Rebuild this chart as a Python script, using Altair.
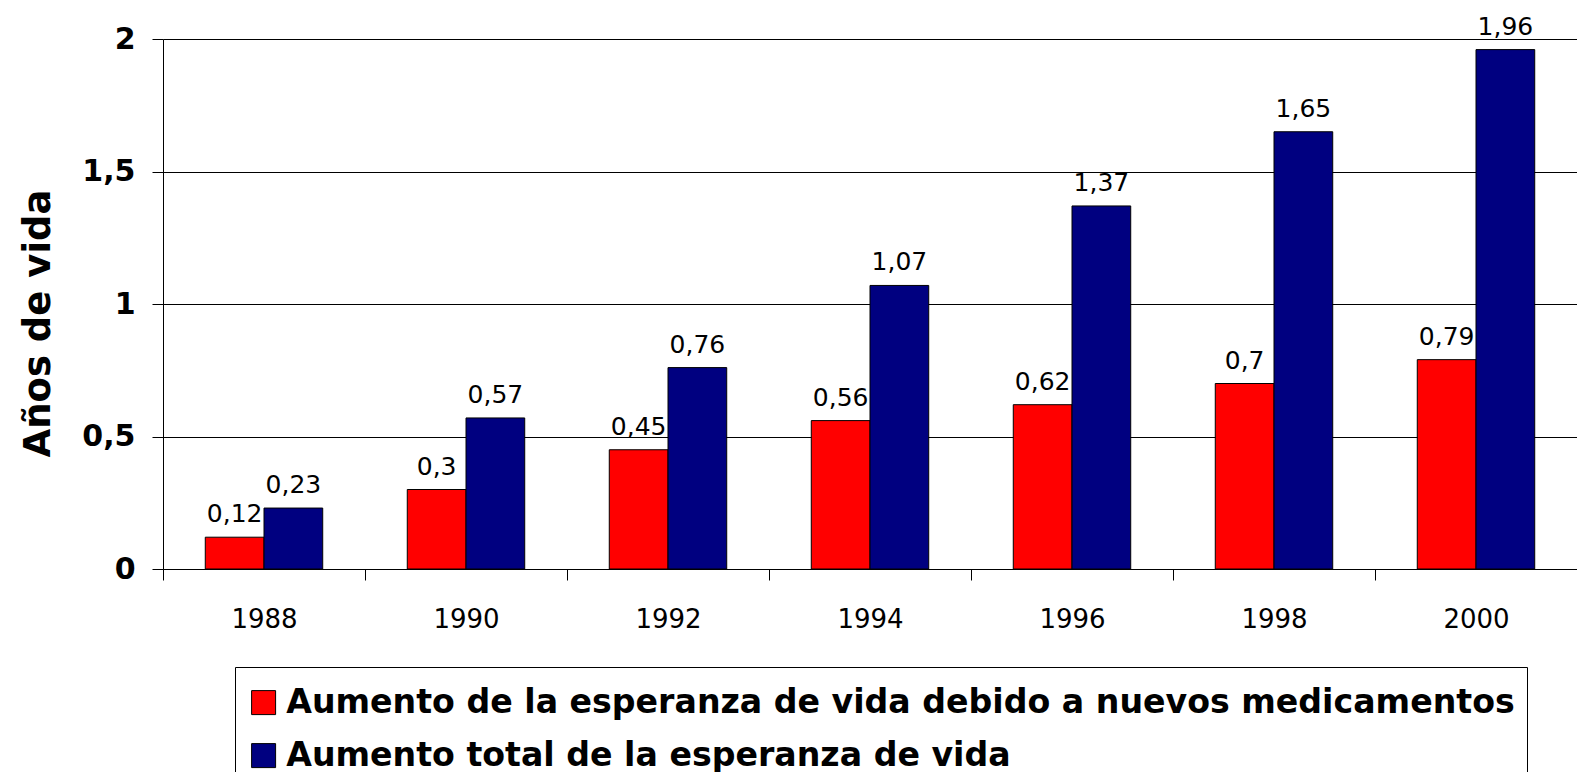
import altair as alt
import pandas as pd

years = ["1988", "1990", "1992", "1994", "1996", "1998", "2000"]
series_names = [
    "Aumento de la esperanza de vida debido a nuevos medicamentos",
    "Aumento total de la esperanza de vida",
]
medicamentos = [0.12, 0.3, 0.45, 0.56, 0.62, 0.7, 0.79]
total = [0.23, 0.57, 0.76, 1.07, 1.37, 1.65, 1.96]
y_ticks = [0, 0.5, 1, 1.5, 2]
colors = ["#FF0000", "#000080"]

rows = []
for i, yr in enumerate(years):
    rows.append({"year": yr, "serie": series_names[0], "value": medicamentos[i]})
    rows.append({"year": yr, "serie": series_names[1], "value": total[i]})
df = pd.DataFrame(rows)

FONT = "DejaVu Sans"

x_enc = alt.X(
    "year:N",
    sort=years,
    scale=alt.Scale(paddingInner=0, paddingOuter=0),
    axis=alt.Axis(
        title=None,
        tickBand="extent",
        labelAngle=0,
        labelFont=FONT,
        labelFontSize=26,
        labelColor="black",
        labelPadding=26,
        tickSize=11,
        tickColor="black",
        domainColor="black",
        grid=False,
    ),
)
xoff_enc = alt.XOffset(
    "serie:N", sort=series_names, scale=alt.Scale(paddingOuter=0.72, paddingInner=0)
)
y_enc = alt.Y(
    "value:Q",
    scale=alt.Scale(domain=[0, 2], nice=False, zero=True),
    axis=alt.Axis(
        values=y_ticks,
        labelExpr="replace(toString(datum.value), '.', ',')",
        title="Años de vida",
        titleFont=FONT,
        titleFontSize=37,
        titleFontWeight="bold",
        titleColor="black",
        titlePadding=24,
        titleY=284,
        labelFont=FONT,
        labelFontSize=30,
        labelFontWeight="bold",
        labelColor="black",
        labelPadding=17,
        tickSize=11,
        tickColor="black",
        domainColor="black",
        grid=True,
        gridColor="black",
        gridWidth=1,
        gridOpacity=1,
    ),
)

bars = alt.Chart(df).mark_bar(stroke="black", strokeWidth=1).encode(
    x=x_enc,
    xOffset=xoff_enc,
    y=y_enc,
    color=alt.Color(
        "serie:N",
        sort=series_names,
        scale=alt.Scale(domain=series_names, range=colors),
        legend=alt.Legend(
            title=" ",
            titleFontSize=1,
            titlePadding=6,
            orient="none",
            legendX=72,
            legendY=628,
            direction="vertical",
            strokeColor="black",
            fillColor="white",
            padding=12,
            symbolType="square",
            symbolSize=576,
            symbolStrokeColor="black",
            symbolStrokeWidth=1,
            symbolOpacity=1,
            labelFont=FONT,
            labelFontSize=33.2,
            labelFontWeight="bold",
            labelColor="black",
            labelLimit=3000,
            labelOffset=6,
            rowPadding=19,
        ),
    ),
)

labels = alt.Chart(df).transform_calculate(
    label="replace(toString(datum.value), '.', ',')"
).mark_text(
    font=FONT, fontSize=25, color="black", baseline="alphabetic", dy=-15
).encode(
    x=alt.X("year:N", sort=years),
    xOffset=alt.XOffset("serie:N", sort=series_names),
    y=alt.Y("value:Q"),
    text="label:N",
)

chart = alt.layer(bars, labels).properties(
    width=1414,
    height=530,
    autosize=alt.AutoSizeParams(type="none"),
    padding={"left": 155, "top": 31, "right": 0, "bottom": 203},
).configure_view(stroke=None)

chart.save("out.html", embed_options={"renderer": "svg", "actions": False})
